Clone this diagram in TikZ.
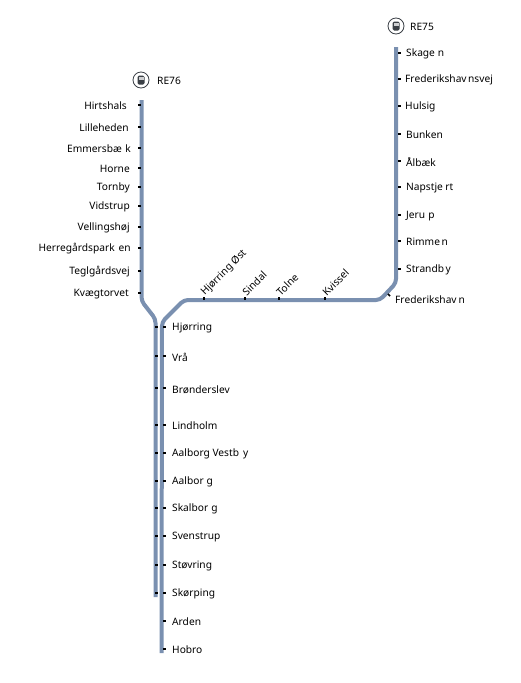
\documentclass[tikz,border=0pt]{standalone}
\usepackage{fontspec}
\setmainfont{Noto Sans}
\definecolor{linecol}{HTML}{7A90B0}
\definecolor{iconcol}{HTML}{3A3F45}
\tikzset{
  routeline/.style={draw=linecol, line width=4pt, line join=round},
  halt/.style={fill=black, inner sep=0pt, minimum width=3pt, minimum height=1.5pt},
  stlabel/.style={inner sep=0pt, yshift=-1pt, font=\fontsize{10.2}{12}\selectfont},
  stleft/.style={stlabel, anchor=east},
  stright/.style={stlabel, anchor=west},
  stup/.style={stlabel, anchor=west, rotate=45},
  iconring/.style={draw=iconcol, circle, line width=0.8pt, fill=white, minimum size=16pt, inner sep=0pt},
  iconbody/.style={fill=iconcol, rounded corners=1.5pt, minimum width=7pt, minimum height=9pt, inner sep=0pt},
  iconwin/.style={fill=white!75!iconcol, minimum width=5pt, minimum height=3pt, inner sep=0pt}
}
\begin{document}
\begin{tikzpicture}[x=1pt, y=-1pt]
    \useasboundingbox (0,0) rectangle (521,683);

    % Linjer
    \coordinate (reA) at (141.5,100);
    \coordinate (reB) at (141.5,301);
    \coordinate (reC) at (155.5,319);
    \coordinate (reD) at (155.5,597);
    \coordinate (rfA) at (396,47);
    \coordinate (rfB) at (396,283);
    \coordinate (rfC) at (380,300);
    \coordinate (rfD) at (184,300);
    \coordinate (rfE) at (162,322);
    \coordinate (rfF) at (161.5,653);
    \draw[routeline, rounded corners=4pt] (reA) -- (reB) -- (reC) -- (reD);
    \draw[routeline, rounded corners=4pt] (rfA) -- (rfB) -- (rfC) -- (rfD) -- (rfE) -- (rfF);

    % Ikoner
    \node[iconring] (ring76) at (141,80) {};
    \node[iconbody] (body76) at (ring76) {};
    \node[iconwin] (win76) at (141,78.5) {};
    \node[stright] (re76) at (157,80) {RE76};
    \node[iconring] (ring75) at (396,26) {};
    \node[iconbody] (body75) at (ring75) {};
    \node[iconwin] (win75) at (396,24.5) {};
    \node[stright] (re75) at (410,26) {RE75};

    % RE76 nord
    \node[halt] (hHirt) at (139,105) {};
    \node[halt] (hLill) at (139,127) {};
    \node[halt] (hEmme) at (139,148) {};
    \node[halt] (hHorn) at (139,168) {};
    \node[halt] (hTorn) at (139,187) {};
    \node[halt] (hVids) at (139,206) {};
    \node[halt] (hVell) at (139,227) {};
    \node[halt] (hHerr) at (139,248) {};
    \node[halt] (hTegl) at (139,271) {};
    \node[halt] (hKvae) at (139,293) {};
    \node[stleft] (tHirt) at (127,105) {Hirtshals};
    \node[stleft] (tLill) at (129,127) {Lilleheden};
    \node[stleft] (tEmme) at (131,148) {Emmersbæ\kern3.5pt k};
    \node[stleft] (tHorn) at (130,168) {Horne};
    \node[stleft] (tTorn) at (130,187) {Tornby};
    \node[stleft] (tVids) at (130,206) {Vidstrup};
    \node[stleft] (tVell) at (130,227) {Vellingshøj};
    \node[stleft] (tHerr) at (131,248) {Herregårdspark\kern4pt en};
    \node[stleft] (tTegl) at (130,271) {Teglgårdsvej};
    \node[stleft] (tKvae) at (129,293) {Kvægtorvet};

    % RE75 nord
    \node[halt] (hSkag) at (399,53) {};
    \node[halt] (hFvej) at (399,79) {};
    \node[halt] (hHuls) at (399,106) {};
    \node[halt] (hBunk) at (399,134) {};
    \node[halt] (hAlba) at (399,161) {};
    \node[halt] (hNaps) at (399,187) {};
    \node[halt] (hJeru) at (399,215) {};
    \node[halt] (hRimm) at (399,241) {};
    \node[halt] (hStra) at (399,269) {};
    \node[halt, rotate=-45] (hFred) at (389,295) {};
    \node[stright] (tSkag) at (406,53) {Skage\kern3pt n};
    \node[stright] (tFvej) at (405,79) {Frederikshav\kern1.5pt nsvej};
    \node[stright] (tHuls) at (405,106) {Hulsig};
    \node[stright] (tBunk) at (406,134) {Bunken};
    \node[stright] (tAlba) at (406,161) {Ålbæk};
    \node[stright] (tNaps) at (406,187) {Napstje\kern2.5pt rt};
    \node[stright] (tJeru) at (406,215) {Jeru\kern3pt p};
    \node[stright] (tRimm) at (406,241) {Rimme\kern1.5pt n};
    \node[stright] (tStra) at (406,269) {Strandb\kern1.5pt y};
    \node[stright] (tFred) at (395,299) {Frederikshav\kern2pt n};

    % Tvaers
    \node[halt, rotate=90] (hHoest) at (204,298) {};
    \node[halt, rotate=90] (hSind) at (245,298) {};
    \node[halt, rotate=90] (hToln) at (279,298) {};
    \node[halt, rotate=90] (hKvis) at (325,298) {};
    \node[stup] (tHoest) at (203,293) {Hjørring Øst};
    \node[stup] (tSind) at (244,293) {Sindal};
    \node[stup] (tToln) at (278,293) {Tolne};
    \node[stup] (tKvis) at (324,293) {Kvissel};

    % Faelles straekning, venstre spor
    \node[halt] (aHjoe) at (156,327) {};
    \node[halt] (aVraa) at (156,356) {};
    \node[halt] (aBroe) at (156,388) {};
    \node[halt] (aLind) at (156,425) {};
    \node[halt] (aVest) at (156,453) {};
    \node[halt] (aAalb) at (156,481) {};
    \node[halt] (aSkal) at (156,508) {};
    \node[halt] (aSven) at (156,536) {};
    \node[halt] (aStoe) at (156,565) {};
    \node[halt] (aSkoe) at (156,593) {};

    % Faelles straekning, hoejre spor
    \node[halt] (bHjoe) at (164,327) {};
    \node[halt] (bVraa) at (164,356) {};
    \node[halt] (bBroe) at (164,388) {};
    \node[halt] (bLind) at (164,425) {};
    \node[halt] (bVest) at (164,453) {};
    \node[halt] (bAalb) at (164,481) {};
    \node[halt] (bSkal) at (164,508) {};
    \node[halt] (bSven) at (164,536) {};
    \node[halt] (bStoe) at (164,565) {};
    \node[halt] (bSkoe) at (164,593) {};
    \node[halt] (bArde) at (164,621) {};
    \node[halt] (bHobr) at (164,649) {};

    \node[stright] (tHjoe) at (172,327) {Hjørring};
    \node[stright] (tVraa) at (172,356) {Vrå};
    \node[stright] (tBroe) at (172,389) {Brønderslev};
    \node[stright] (tLind) at (172,425) {Lindholm};
    \node[stright] (tVest) at (172,453) {Aalborg Vestb\kern4pt y};
    \node[stright] (tAalb) at (172,481) {Aalbor\kern3pt g};
    \node[stright] (tSkal) at (172,508) {Skalbor\kern3pt g};
    \node[stright] (tSven) at (172,536) {Svenstrup};
    \node[stright] (tStoe) at (172,565) {Støvring};
    \node[stright] (tSkoe) at (172,593) {Skørping};
    \node[stright] (tArde) at (172,621) {Arden};
    \node[stright] (tHobr) at (172,649) {Hobro};
\end{tikzpicture}
\end{document}
